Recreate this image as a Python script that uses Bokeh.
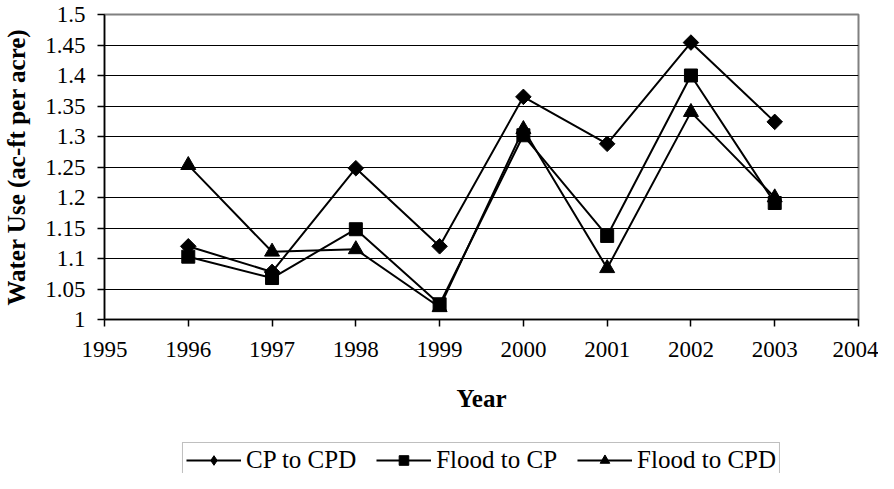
import numpy as np
from bokeh.plotting import figure
from bokeh.layouts import column
from bokeh.models import Range1d, FixedTicker, Legend, LegendItem
from bokeh.embed import file_html
from bokeh.resources import INLINE

# ---- data ----
years = [1996, 1997, 1998, 1999, 2000, 2001, 2002, 2003]
cp_to_cpd = [1.120, 1.078, 1.248, 1.120, 1.365, 1.288, 1.454, 1.324]
flood_to_cp = [1.103, 1.068, 1.148, 1.025, 1.302, 1.137, 1.400, 1.191]
flood_to_cpd = [1.253, 1.111, 1.115, 1.020, 1.312, 1.084, 1.340, 1.200]

series_names = ["CP to CPD", "Flood to CP", "Flood to CPD"]

x_ticks = [1995, 1996, 1997, 1998, 1999, 2000, 2001, 2002, 2003, 2004]
x_tick_labels = ["1995", "1996", "1997", "1998", "1999", "2000", "2001", "2002", "2003", "2004"]
y_ticks = [1.0, 1.05, 1.1, 1.15, 1.2, 1.25, 1.3, 1.35, 1.4, 1.45, 1.5]
y_tick_labels = ["1", "1.05", "1.1", "1.15", "1.2", "1.25", "1.3", "1.35", "1.4", "1.45", "1.5"]

x_title = "Year"
y_title = "Water Use (ac-ft per acre)"

FONT = "Liberation Serif"

p = figure(width=878, height=440, output_backend="svg", toolbar_location=None,
           x_range=Range1d(x_ticks[0], x_ticks[-1]), y_range=Range1d(y_ticks[0], y_ticks[-1]),
           min_border_left=102, min_border_right=20, min_border_top=14, min_border_bottom=121)

p.background_fill_color = "white"
p.border_fill_color = "white"
p.outline_line_color = "#808080"
p.outline_line_width = 2

# grid
p.xgrid.visible = False
p.ygrid.ticker = FixedTicker(ticks=y_ticks[1:-1])
p.ygrid.grid_line_color = "black"
p.ygrid.grid_line_width = 1

# axes
p.xaxis.ticker = FixedTicker(ticks=x_ticks)
p.xaxis.major_label_overrides = dict(zip(x_ticks, x_tick_labels))
p.yaxis.ticker = FixedTicker(ticks=y_ticks)
p.yaxis.major_label_overrides = dict(zip(y_ticks, y_tick_labels))
for ax in (p.xaxis[0], p.yaxis[0]):
    ax.axis_line_color = "black"
    ax.axis_line_width = 1.5
    ax.major_tick_line_color = "black"
    ax.major_tick_line_width = 1.5
    ax.major_tick_out = 7
    ax.major_tick_in = 0
    ax.minor_tick_out = 0
    ax.minor_tick_in = 0
    ax.major_label_text_font = FONT
    ax.major_label_text_font_size = "23px"
    ax.major_label_text_color = "black"
    ax.axis_label_text_font = FONT
    ax.axis_label_text_font_size = "25px"
    ax.axis_label_text_font_style = "bold"
    ax.axis_label_text_color = "black"

p.xaxis.axis_label = x_title
p.yaxis.axis_label = y_title
p.xaxis.major_label_standoff = 15
p.xaxis.axis_label_standoff = 25
p.yaxis.major_label_standoff = 12
p.yaxis.axis_label_standoff = 12


def draw_series(fig, diamond_marker, diamond_angle, diamond_size):
    # triangle first so squares sit on top
    l3 = fig.line(years, flood_to_cpd, line_color="black", line_width=2)
    s3 = fig.scatter(years, flood_to_cpd, marker="triangle", size=15, fill_color="black", line_color="black")
    l1 = fig.line(years, cp_to_cpd, line_color="black", line_width=2)
    s1 = fig.scatter(years, cp_to_cpd, marker=diamond_marker, angle=diamond_angle, size=diamond_size,
                     fill_color="black", line_color="black")
    l2 = fig.line(years, flood_to_cp, line_color="black", line_width=2)
    s2 = fig.scatter(years, flood_to_cp, marker="square", size=13, fill_color="black", line_color="black")
    return [(l1, s1), (l2, s2), (l3, s3)]


draw_series(p, "square", np.pi / 4, 11)

# ---- legend strip (separate figure below; its copy of the series lies out of view) ----
q = figure(width=878, height=33, output_backend="svg", toolbar_location=None,
           x_range=Range1d(0, 1), y_range=Range1d(0, 1),
           min_border_left=102, min_border_right=20, min_border_top=0, min_border_bottom=0)
q.axis.visible = False
q.grid.visible = False
q.outline_line_color = None
q.background_fill_color = "white"
q.border_fill_color = "white"
pairs = draw_series(q, "diamond", 0, 14)

legend = Legend(items=[LegendItem(label=name, renderers=list(pr)) for name, pr in zip(series_names, pairs)],
                orientation="horizontal", location="top_center",
                border_line_color="#808080", border_line_width=1.5,
                label_text_font=FONT, label_text_font_size="25px", label_text_color="black",
                glyph_width=55, glyph_height=24, label_height=24, label_standoff=5,
                spacing=20, padding=3,
                background_fill_color="white", background_fill_alpha=1, margin=2)
q.add_layout(legend)

layout = column(p, q, spacing=0)

open("out.html", "w").write(file_html(layout, INLINE))
